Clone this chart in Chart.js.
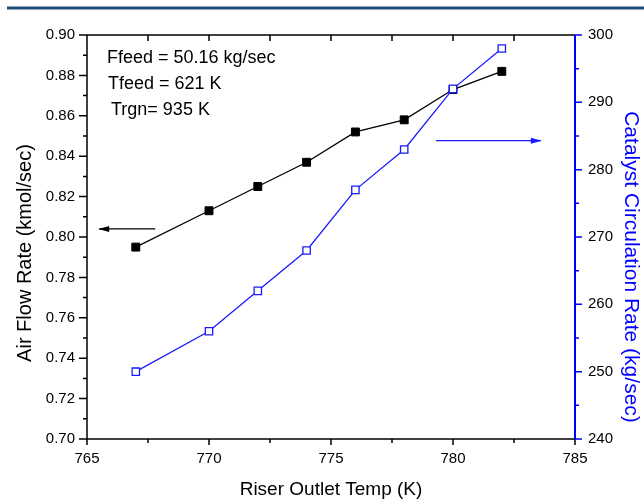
<!DOCTYPE html>
<html lang="en">
<head>
    <meta charset="UTF-8">
    <title>Air Flow and Catalyst Circulation vs Riser Outlet Temp</title>
    <script src="https://cdn.jsdelivr.net/npm/chart.js"></script>
    <style>
        body {
            margin: 0;
            background-color: #ffffff;
        }
        .wrap {
            width: 644px;
            height: 499px;
        }
    </style>
</head>
<body>
    <div class="wrap">
        <canvas id="riserChart" width="644" height="499"></canvas>
    </div>

    <script>
        // data
        const riserTemp = [767, 770, 772, 774, 776, 778, 780, 782];
        const airFlow = [0.795, 0.813, 0.825, 0.837, 0.852, 0.858, 0.873, 0.882];
        const catalystRate = [250, 256, 262, 268, 277, 283, 292, 298];
        const notes = ['Ffeed = 50.16 kg/sec', 'Tfeed = 621 K', 'Trgn= 935 K'];

        const BLUE = '#1a1aff';
        const FONT = 'Liberation Sans, Arial, sans-serif';

        function toPoints(xs, ys) {
            return xs.map((x, i) => ({ x: x, y: ys[i] }));
        }

        // axes, minor ticks, arrows and the text box
        const framePlugin = {
            id: 'frame',
            afterDraw(chart) {
                const ctx = chart.ctx;
                const a = chart.chartArea;
                const sx = chart.scales.x, sy = chart.scales.y, sy1 = chart.scales.y1;
                ctx.save();

                // page rule at the very top
                ctx.strokeStyle = '#1f4e79';
                ctx.lineWidth = 3;
                ctx.beginPath();
                ctx.moveTo(7, 8);
                ctx.lineTo(644, 8);
                ctx.stroke();

                ctx.lineWidth = 1.5;
                ctx.strokeStyle = '#000';
                ctx.beginPath();
                ctx.moveTo(a.left, a.top); ctx.lineTo(a.left, a.bottom);
                ctx.moveTo(a.left, a.top); ctx.lineTo(a.right, a.top);
                ctx.moveTo(a.left, a.bottom); ctx.lineTo(a.right, a.bottom);
                // x ticks, bottom outward and top inward
                for (let v = 765; v <= 785.01; v += 2.5) {
                    const px = sx.getPixelForValue(v);
                    const major = Math.abs(v % 5) < 0.01;
                    ctx.moveTo(px, a.bottom); ctx.lineTo(px, a.bottom + (major ? 6 : 4));
                    ctx.moveTo(px, a.top); ctx.lineTo(px, a.top + 6);
                }
                // left ticks
                for (let k = 0; k <= 20; k++) {
                    const py = sy.getPixelForValue(0.70 + k * 0.01);
                    ctx.moveTo(a.left, py); ctx.lineTo(a.left - (k % 2 === 0 ? 8 : 4), py);
                }
                ctx.stroke();

                // right axis in blue
                ctx.strokeStyle = '#0000ff';
                ctx.lineWidth = 2;
                ctx.beginPath();
                ctx.moveTo(a.right, a.top); ctx.lineTo(a.right, a.bottom);
                ctx.stroke();
                ctx.lineWidth = 1.5;
                ctx.beginPath();
                for (let v = 240; v <= 300; v += 5) {
                    const py = sy1.getPixelForValue(v);
                    ctx.moveTo(a.right, py); ctx.lineTo(a.right + (v % 10 === 0 ? 7 : 4), py);
                }
                ctx.stroke();

                // arrows pointing at each series' axis
                function arrow(x1, y1, x2, y2, color) {
                    ctx.strokeStyle = color;
                    ctx.fillStyle = color;
                    ctx.lineWidth = 1.2;
                    ctx.beginPath();
                    ctx.moveTo(x1, y1); ctx.lineTo(x2, y2);
                    ctx.stroke();
                    const dir = Math.sign(x2 - x1);
                    ctx.beginPath();
                    ctx.moveTo(x2 + dir * 1, y2);
                    ctx.lineTo(x2 - dir * 10, y2 - 3);
                    ctx.lineTo(x2 - dir * 10, y2 + 3);
                    ctx.closePath();
                    ctx.fill();
                }
                const ay = sy.getPixelForValue(0.804);
                arrow(sx.getPixelForValue(767.8), ay, sx.getPixelForValue(765.5), ay, '#000');
                const by = sy1.getPixelForValue(284.3);
                arrow(sx.getPixelForValue(779.3), by, sx.getPixelForValue(783.6), by, BLUE);

                // text box
                ctx.fillStyle = '#000';
                ctx.font = '18px ' + FONT;
                ctx.textAlign = 'left';
                ctx.textBaseline = 'alphabetic';
                ctx.fillText(notes[0], a.left + 20, 63);
                ctx.fillText(notes[1], a.left + 21, 89);
                ctx.fillText(notes[2], a.left + 24, 115);

                // axis titles
                ctx.textAlign = 'center';
                ctx.textBaseline = 'middle';
                ctx.font = '19px ' + FONT;
                ctx.fillText('Riser Outlet Temp (K)', (a.left + a.right) / 2, 490);

                ctx.save();
                ctx.translate(25, 253);
                ctx.rotate(-Math.PI / 2);
                ctx.font = '20px ' + FONT;
                ctx.fillText('Air Flow Rate (kmol/sec)', 0, 0);
                ctx.restore();

                ctx.save();
                ctx.translate(631, 267);
                ctx.rotate(Math.PI / 2);
                ctx.fillStyle = '#0000ff';
                ctx.font = '21px ' + FONT;
                ctx.fillText('Catalyst Circulation Rate (kg/sec)', 0, 0);
                ctx.restore();

                ctx.restore();
            }
        };

        const ctx = document.getElementById('riserChart').getContext('2d');
        const chartInstance = new Chart(ctx, {
            type: 'line',
            data: {
                datasets: [{
                    label: 'Catalyst Circulation Rate',
                    data: toPoints(riserTemp, catalystRate),
                    yAxisID: 'y1',
                    borderColor: BLUE,
                    borderWidth: 1.3,
                    pointStyle: 'rect',
                    pointRadius: 5.2,
                    pointBackgroundColor: '#ffffff',
                    pointBorderColor: BLUE,
                    pointBorderWidth: 1.3,
                    tension: 0
                }, {
                    label: 'Air Flow Rate',
                    data: toPoints(riserTemp, airFlow),
                    yAxisID: 'y',
                    borderColor: '#000000',
                    borderWidth: 1.3,
                    pointStyle: 'rect',
                    pointRadius: 5.6,
                    pointBackgroundColor: '#000000',
                    pointBorderColor: '#000000',
                    pointBorderWidth: 1,
                    tension: 0
                }]
            },
            options: {
                responsive: false,
                animation: false,
                layout: { padding: { top: 35, left: 0, right: 0, bottom: 0 } },
                plugins: {
                    legend: false,
                    tooltip: { enabled: false }
                },
                scales: {
                    x: {
                        type: 'linear',
                        position: 'bottom',
                        min: 765,
                        max: 785,
                        grid: { display: false, drawTicks: false },
                        border: { display: false },
                        ticks: {
                            stepSize: 5,
                            padding: 11,
                            color: '#000',
                            font: { family: FONT, size: 15 }
                        },
                        afterFit: function(s) { s.height = 60; }
                    },
                    y: {
                        position: 'left',
                        min: 0.70,
                        max: 0.90,
                        grid: { display: false, drawTicks: false },
                        border: { display: false },
                        ticks: {
                            stepSize: 0.02,
                            padding: 12,
                            color: '#000',
                            font: { family: FONT, size: 15 },
                            callback: function(v) { return v.toFixed(2); }
                        },
                        afterFit: function(s) { s.width = 87; }
                    },
                    y1: {
                        position: 'right',
                        min: 240,
                        max: 300,
                        grid: { display: false, drawTicks: false },
                        border: { display: false },
                        ticks: {
                            stepSize: 10,
                            padding: 13,
                            color: '#000',
                            font: { family: FONT, size: 15 }
                        },
                        afterFit: function(s) { s.width = 69; }
                    }
                }
            },
            plugins: [framePlugin]
        });
    </script>
</body>
</html>
